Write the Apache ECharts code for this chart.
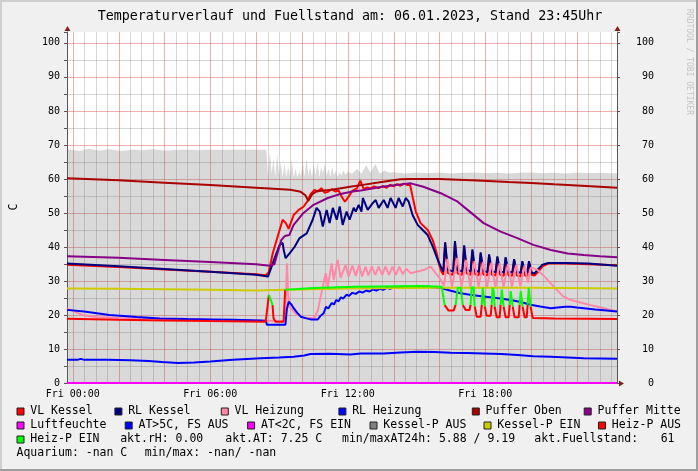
<!DOCTYPE html>
<html><head><meta charset="utf-8">
<script src="https://cdn.jsdelivr.net/npm/echarts@6/dist/echarts.min.js"></script>
<style>html,body{margin:0;padding:0;background:#f0f0f0}#c{width:698px;height:471px}</style>
</head><body><div id="c"></div>
<script>
// ---------------- DATA (hours of Fri 06.01.2023, value) ----------------
const timeTicks = [0, 6, 12, 18];
const tickPrefix = 'Fri ';

const fuellstand = [[-0.25,68.8],[0.3,68.2],[0.7,68.9],[1.2,68.3],[1.6,68.7],[2.1,68.2],[2.6,68.6],[3.0,68.4],[3.5,68.7],[4.0,68.3],[4.5,68.5],[5.0,68.6],[5.5,68.4],[6.0,68.6],[6.5,68.5],[7.0,68.6],[7.5,68.6],[8.0,68.6],[8.45,68.6],[8.52,61],[8.6,68],[8.68,61.5],[8.76,66],[8.84,60.5],[8.92,67.5],[9.0,61],[9.08,65],[9.16,60.5],[9.24,64.5],[9.32,60.5],[9.4,63.5],[9.48,61],[9.56,65.5],[9.64,60.5],[9.72,63],[9.8,60.5],[9.88,62],[9.96,61],[10.04,65],[10.12,60.5],[10.2,66],[10.28,61],[10.36,63.5],[10.44,60.5],[10.52,64.5],[10.6,61],[10.68,65],[10.76,60.5],[10.84,63.5],[10.92,61.5],[11.0,64.5],[11.08,61],[11.16,63],[11.24,60.5],[11.32,63.5],[11.4,61],[11.48,62.5],[11.56,60.5],[11.64,62],[11.72,61],[11.8,62.5],[11.9,61.2],[12.0,62.2],[12.2,61.5],[12.4,63],[12.6,61.5],[12.8,64],[13.0,61.8],[13.2,64.5],[13.4,61.5],[13.6,62.5],[13.8,61.8],[14.0,62],[14.5,61.6],[15.0,61.9],[15.5,61.7],[16.0,61.9],[16.5,61.6],[17.0,61.8],[17.5,61.9],[18.0,61.7],[18.5,61.8],[19.0,61.6],[19.5,61.8],[20.0,61.9],[20.5,61.7],[21.0,61.8],[21.5,61.6],[22.0,61.9],[22.5,61.7],[23.0,61.8],[23.5,61.7],[23.75,61.7]];

const vlKessel = [[-0.25,34.8],[2,34.1],[4,33.4],[6,32.7],[8,32.0],[8.42,31.7],[8.55,32.5],[8.73,38.2],[8.94,43.0],[9.16,48.0],[9.3,47.0],[9.42,45.3],[9.64,49.4],[9.86,50.9],[10.08,51.9],[10.25,53.5],[10.38,55.5],[10.55,56.8],[10.69,56.3],[10.85,57.3],[11.0,55.9],[11.13,56.2],[11.3,57.0],[11.45,56.3],[11.6,56.6],[11.75,54.6],[11.88,53.3],[12.04,54.8],[12.2,56.5],[12.4,57.2],[12.55,59.5],[12.7,57.0],[12.85,57.5],[13.0,57.2],[13.15,57.8],[13.35,57.3],[13.53,57.9],[13.7,57.4],[13.85,58.3],[14.0,57.8],[14.15,58.5],[14.3,58.0],[14.45,58.6],[14.6,58.2],[14.72,58.3],[14.83,54.8],[14.97,50.4],[15.18,47.0],[15.49,45.0],[15.71,42.0],[15.88,38.2],[15.97,35.3],[16.06,33.2],[16.17,31.8],[16.25,41.0],[16.37,32.3],[16.6,31.8],[16.68,41.3],[16.8,32.2],[17.0,31.8],[17.08,40.0],[17.2,32.2],[17.36,31.8],[17.44,38.8],[17.56,32.0],[17.72,31.7],[17.8,38.0],[17.92,31.9],[18.09,31.6],[18.17,37.4],[18.29,31.8],[18.45,31.6],[18.53,36.8],[18.65,31.8],[18.81,31.5],[18.89,36.6],[19.01,31.7],[19.18,31.5],[19.26,36.0],[19.38,31.6],[19.54,31.4],[19.62,35.4],[19.74,31.6],[19.83,31.4],[19.91,35.4],[20.03,31.8],[20.15,31.6],[20.3,32.6],[20.5,34.3],[20.75,35.1],[21.5,35.1],[22.5,34.9],[23.75,34.6]];

const rlKessel = [[-0.25,35.1],[2,34.3],[4,33.5],[6,32.7],[8,31.8],[8.52,31.3],[8.6,31.6],[8.83,37.1],[9.03,40.6],[9.16,41.2],[9.21,39.0],[9.29,36.7],[9.47,38.2],[9.69,40.1],[9.9,42.6],[10.21,44.0],[10.47,48.0],[10.64,51.5],[10.78,50.4],[10.91,46.0],[11.08,50.9],[11.21,47.0],[11.35,51.5],[11.52,48.0],[11.65,51.9],[11.78,46.5],[11.95,50.4],[12.08,48.0],[12.26,51.5],[12.35,50.4],[12.48,52.4],[12.6,50.4],[12.66,54.4],[12.87,50.9],[13.09,52.9],[13.22,53.8],[13.35,51.5],[13.57,53.8],[13.74,51.5],[13.87,54.4],[14.09,51.5],[14.22,54.4],[14.4,51.9],[14.53,54.4],[14.66,53.3],[14.83,49.4],[15.05,46.5],[15.27,45.0],[15.49,43.5],[15.71,40.1],[15.93,36.2],[16.06,34.2],[16.17,32.8],[16.25,41.4],[16.37,33.3],[16.6,32.8],[16.68,41.7],[16.8,33.2],[17.0,32.8],[17.08,40.5],[17.2,33.2],[17.36,32.8],[17.44,39.3],[17.56,33.0],[17.72,32.7],[17.8,38.4],[17.92,32.9],[18.09,32.6],[18.17,37.8],[18.29,32.8],[18.45,32.6],[18.53,37.2],[18.65,32.8],[18.81,32.5],[18.89,37.0],[19.01,32.7],[19.18,32.5],[19.26,36.4],[19.38,32.6],[19.54,32.4],[19.62,35.8],[19.74,32.6],[19.83,32.4],[19.91,35.8],[20.03,32.4],[20.15,32.2],[20.3,33.4],[20.5,34.8],[20.75,35.3],[21.5,35.3],[22.5,35.1],[23.75,34.5]];

const vlHeizung = [[-0.25,21.9],[0.1,21.0],[0.4,20.0],[1.0,19.4],[2.0,19.1],[4.0,18.9],[6.0,18.6],[8.4,18.3],[9.22,18.2],[9.28,20.5],[9.35,35.2],[9.4,26.0],[9.47,22.4],[9.7,20.6],[10.1,19.1],[10.55,19.1],[10.7,21.5],[10.82,25.4],[11.04,32.3],[11.13,28.3],[11.3,35.2],[11.39,30.3],[11.56,36.2],[11.69,30.9],[11.91,34.7],[12.04,31.3],[12.2,34.5],[12.35,31.5],[12.5,34.7],[12.62,31.3],[12.78,34.2],[12.9,31.6],[13.05,34.3],[13.2,31.8],[13.35,34.2],[13.5,31.8],[13.65,34.3],[13.8,31.8],[13.95,34.2],[14.1,31.8],[14.25,34.2],[14.4,32.0],[14.55,33.6],[14.75,32.3],[15.05,32.8],[15.31,33.2],[15.62,34.2],[15.84,32.3],[16.05,30.5],[16.2,28.5],[16.35,36.5],[16.55,28.3],[16.78,36.8],[16.97,28.3],[17.17,36.2],[17.35,28.2],[17.53,35.8],[17.71,28.2],[17.9,35.6],[18.08,28.2],[18.27,35.4],[18.44,28.2],[18.63,35.2],[18.8,28.2],[18.99,35.0],[19.17,28.3],[19.36,34.8],[19.53,28.4],[19.72,34.6],[19.86,29.5],[20.0,34.0],[20.29,33.2],[20.6,31.2],[20.86,29.3],[21.15,27.2],[21.42,25.4],[21.7,24.5],[22.03,23.9],[22.6,22.9],[23.17,22.0],[23.75,21.0]];

const rlHeizung = [[-0.25,21.5],[0.5,21.0],[1.6,20.0],[2.8,19.4],[3.8,19.0],[5,18.8],[6,18.7],[7,18.6],[8.2,18.4],[8.42,18.3],[8.48,17.1],[9.28,17.1],[9.34,21.5],[9.42,23.9],[9.55,23.0],[9.64,22.0],[9.8,20.6],[9.95,19.5],[10.2,19.0],[10.38,18.7],[10.69,18.7],[10.82,19.8],[10.95,20.5],[11.05,22.4],[11.15,21.9],[11.3,23.5],[11.4,23.1],[11.5,24.4],[11.6,24.0],[11.7,25.2],[11.8,24.8],[11.95,26.0],[12.05,25.6],[12.2,26.5],[12.35,26.2],[12.5,26.9],[12.65,26.6],[12.8,27.2],[12.95,26.9],[13.1,27.5],[13.25,27.2],[13.4,27.7],[13.55,27.4],[13.7,28.0],[13.85,27.7],[14.0,28.1],[14.15,27.9],[14.3,28.3],[14.6,28.2],[15.0,28.3],[15.5,28.3],[16.06,27.9],[16.5,27.1],[16.93,26.4],[17.4,25.9],[17.93,25.4],[18.5,25.0],[19.11,24.4],[19.55,23.8],[19.98,23.0],[20.4,22.5],[20.86,22.0],[21.16,22.2],[21.5,22.4],[21.73,22.4],[22.0,22.2],[22.3,22.0],[22.8,21.6],[23.3,21.3],[23.75,21.0]];

const pufferOben = [[-0.25,60.2],[2,59.6],[4,58.9],[6,58.2],[8,57.4],[9.5,56.8],[9.95,56.2],[10.15,55.2],[10.28,53.6],[10.45,55.5],[10.65,56.4],[11.3,56.8],[12.1,57.7],[12.8,58.4],[13.4,59.0],[14.3,59.9],[14.75,60.0],[16,60.0],[17.9,59.5],[19,59.1],[20,58.8],[21,58.4],[22,58.1],[23,57.7],[23.75,57.4]];

const pufferMitte = [[-0.25,37.3],[2,36.8],[4,36.2],[6,35.6],[8,34.9],[8.6,34.5],[8.8,34.9],[8.95,38.5],[9.1,42.0],[9.25,43.2],[9.45,43.5],[9.64,46.5],[10.07,50.0],[10.51,52.4],[11.13,54.4],[11.69,55.6],[12.2,56.3],[12.57,56.6],[13.5,57.7],[14.75,58.7],[15.3,57.7],[16.06,55.8],[16.8,53.3],[17.23,50.9],[17.93,47.0],[18.67,44.5],[19.4,42.6],[20.1,40.6],[20.86,39.1],[21.6,38.1],[22.3,37.6],[23.0,37.3],[23.75,37.0]];

const luftfeuchte = [[-0.25,0],[23.75,0]];

const aussenTemp = [[-0.25,6.8],[0.2,6.8],[0.35,7.1],[0.5,6.8],[1.5,6.8],[2.5,6.7],[3.3,6.5],[3.9,6.2],[4.6,5.9],[5.3,6.0],[6.0,6.3],[7.0,6.8],[8.2,7.3],[9.0,7.5],[9.64,7.7],[10.1,8.1],[10.38,8.5],[11.2,8.6],[12.13,8.4],[12.57,8.7],[13.57,8.7],[14.3,9.0],[15.05,9.2],[15.8,9.1],[16.49,8.9],[17.2,8.8],[17.93,8.7],[18.7,8.5],[19.42,8.2],[20.1,7.9],[20.86,7.7],[21.6,7.5],[22.3,7.3],[23.0,7.2],[23.75,7.1]];

const kesselPumpe = [[-0.25,27.8],[2,27.7],[4,27.6],[6,27.4],[8,27.2],[9.3,27.4],[12,27.8],[16,28.0],[20,28.0],[23.75,27.8]];

// [hour, value, pump on (1) / off (0)]
const heizPumpe = [[-0.25,18.9,0],[2,18.6,0],[4,18.4,0],[6,18.2,0],[8.42,18.0,0],[8.5,18.0,0],[8.56,25.9,1],[8.72,22.9,1],[8.76,19.1,0],[8.85,18.0,0],[9.2,18.0,0],[9.27,27.4,1],[9.64,27.6,1],[10.5,27.9,1],[12.3,28.3,1],[15.2,28.5,1],[16.1,28.3,1],[16.23,22.9,1],[16.4,21.3,0],[16.62,21.3,0],[16.71,23.0,1],[16.8,28.0,1],[16.93,28.0,1],[17.02,22.9,1],[17.15,21.5,0],[17.32,21.5,0],[17.36,23.0,1],[17.41,28.2,1],[17.5,28.0,1],[17.54,22.5,1],[17.63,19.5,0],[17.8,19.5,0],[17.85,23.0,1],[17.89,28.0,1],[17.93,27.5,1],[17.98,22.5,1],[18.06,19.8,0],[18.24,19.8,0],[18.28,23.0,1],[18.32,28.0,1],[18.37,27.0,1],[18.41,22.5,1],[18.5,19.3,0],[18.63,19.3,0],[18.67,23.0,1],[18.72,27.5,1],[18.8,22.5,1],[18.89,19.3,0],[19.02,19.3,0],[19.07,23.0,1],[19.11,27.0,1],[19.2,22.5,1],[19.28,19.3,0],[19.46,19.3,0],[19.5,23.0,1],[19.55,27.0,1],[19.63,22.5,1],[19.72,19.3,0],[19.81,19.3,0],[19.85,23.0,1],[19.9,28.0,1],[19.98,22.5,1],[20.07,19.1,0],[21.0,19.0,0],[22.5,18.9,0],[23.75,18.8,0]];

const readings = {rH:'0.00', AT:'7.25', ATmin:'5.88', ATmax:'9.19', fuell:'61', aq:'-nan', aqMin:'-nan', aqMax:'-nan'};
const titleText = 'Temperaturverlauf und Fuellstand am: 06.01.2023, Stand 23:45Uhr';

// ---------------- RENDER ----------------
const MONO = '"DejaVu Sans Mono", monospace';
const chart = echarts.init(document.getElementById('c'), null, {renderer:'canvas', width:698, height:471});
const GL = 67, GT = 32, GR = 617, GB = 383;
const X_MIN = -0.25, X_MAX = 23.75, Y_MIN = 0, Y_MAX = 103.2;

// grid-line scaffolding: [position, major?, vertical?]; minor first, major last
const gridMinor = [], gridMajor = [];
for (let k = 0; k <= 47; k++) (k % 4 === 0 ? gridMajor : gridMinor).push([k * 0.5, k % 4 === 0 ? 1 : 0, 1]);
for (let k = 1; k <= 20; k++) (k % 2 === 0 ? gridMajor : gridMinor).push([k * 5, k % 2 === 0 ? 1 : 0, 0]);
const gridLines = gridMinor.concat(gridMajor);

function splitRuns(pts, wantOn) {
  const out = [];
  let prev = false;
  for (let i = 0; i < pts.length - 1; i++) {
    const both = pts[i][2] === 1 && pts[i+1][2] === 1;
    const m = both === wantOn;
    if (m) {
      if (!prev) { if (out.length) out.push([pts[i][0], null]); out.push([pts[i][0], pts[i][1]]); }
      out.push([pts[i+1][0], pts[i+1][1]]);
    }
    prev = m;
  }
  return out;
}
function line(name, data, color, width) {
  return {name, type:'line', xAxisIndex:0, yAxisIndex:0, data, symbol:'none', showSymbol:false, animation:false, silent:true,
    connectNulls:false, lineStyle:{color, width: width || 2}, itemStyle:{color}, emphasis:{disabled:true}};
}

const majorC = 'rgba(222,79,79,0.45)', minorC = 'rgba(130,130,130,0.33)';

const graphic = [];
graphic.push({type:'rect', shape:{x:0,y:0,width:698,height:2}, style:{fill:'#cfcfcf'}, z:50});
graphic.push({type:'rect', shape:{x:0,y:0,width:2,height:471}, style:{fill:'#cfcfcf'}, z:50});
graphic.push({type:'rect', shape:{x:696,y:0,width:2,height:471}, style:{fill:'#9e9e9e'}, z:50});
graphic.push({type:'rect', shape:{x:0,y:469,width:698,height:2}, style:{fill:'#9e9e9e'}, z:50});
function txt(x, y, text, size, opts) {
  opts = opts || {};
  return {type:'text', x, y, rotation: opts.rot || 0, z: 60,
    style:{text, x:0, y:0, fill: opts.fill || '#000', font: size + 'px ' + MONO,
      align: opts.align || 'left', textAlign: opts.align || 'left', verticalAlign:'middle', textVerticalAlign:'middle'}};
}
graphic.push(txt(350, 17, titleText, 13.3, {align:'center'}));
graphic.push(txt(689, 62, 'RRDTOOL / TOBI OETIKER', 8, {align:'center', rot:-Math.PI/2, fill:'#c4c4c4'}));
graphic.push(txt(14, 207, 'C', 11.5, {align:'center', rot:Math.PI/2}));
const arrowC = '#801f1f';
graphic.push({type:'polygon', shape:{points:[[GL+0.5,GT-6],[GL-2.5,GT-1],[GL+3.5,GT-1]]}, style:{fill:arrowC}, z:60});
graphic.push({type:'polygon', shape:{points:[[GR+0.5,GT-6],[GR-2.5,GT-1],[GR+3.5,GT-1]]}, style:{fill:arrowC}, z:60});
graphic.push({type:'polygon', shape:{points:[[GR+7,GB+0.5],[GR+2,GB-2.5],[GR+2,GB+3.5]]}, style:{fill:arrowC}, z:60});

const legendRows = [
  {y:411, items:[[16.5,'VL Kessel','#ff0000'],[114.4,'RL Kessel','#000080'],[220.8,'VL Heizung','#ff88a8'],[338.4,'RL Heizung','#0000ff'],[471.8,'Puffer Oben','#aa0000'],[583.7,'Puffer Mitte','#880088']]},
  {y:425, items:[[16.5,'Luftfeuchte','#ff00ff'],[124.7,'AT>5C, FS AUS','#0000ff'],[247.1,'AT<2C, FS EIN','#ff00ff'],[369.5,'Kessel-P AUS','#808080'],[483.5,'Kessel-P EIN','#cccc00'],[598,'Heiz-P AUS','#ff0000']]},
  {y:439, items:[[16.5,'Heiz-P EIN','#00ff00']]}
];
legendRows.forEach(r => r.items.forEach(([x, t, c]) => {
  graphic.push({type:'rect', shape:{x:x+0.5, y:r.y-3, width:7, height:7}, style:{fill:c, stroke:'#222', lineWidth:1}, z:60});
  graphic.push(txt(x+13.8, r.y, t, 11.5));
}));
graphic.push(txt(120.2, 439, 'akt.rH: ' + readings.rH, 11.5));
graphic.push(txt(225.3, 439, 'akt.AT: ' + readings.AT + ' C', 11.5));
graphic.push(txt(342, 439, 'min/maxAT24h: ' + readings.ATmin + ' / ' + readings.ATmax, 11.5));
graphic.push(txt(534.3, 439, 'akt.Fuellstand:', 11.5));
graphic.push(txt(674.5, 439, readings.fuell, 11.5, {align:'right'}));
graphic.push(txt(16.5, 453, 'Aquarium: ' + readings.aq + ' C', 11.5));
graphic.push(txt(144.7, 453, 'min/max: ' + readings.aqMin + '/ ' + readings.aqMax, 11.5));

function fmtX(v) {
  const r = Math.round(v);
  if (Math.abs(v - r) > 1e-6 || timeTicks.indexOf(r) < 0) return '';
  return tickPrefix + String(r).padStart(2, '0') + ':00';
}
function fmtY(v) {
  const r = Math.round(v);
  if (Math.abs(v - r) > 1e-6 || r % 10 !== 0 || r > 100) return '';
  return String(r);
}

const option = {
  backgroundColor: '#f0f0f0',
  animation: false,
  textStyle: {fontFamily: MONO},
  grid: {left: GL, top: GT, right: 698 - GR, bottom: 471 - GB, show: true, backgroundColor: '#ffffff', borderWidth: 0, containLabel: false, outerBoundsMode: 'none'},
  xAxis: {type:'value', min:X_MIN, max:X_MAX, interval:0.25,
    axisLine:{show:true, onZero:false, lineStyle:{color:'#555', width:1}},
    axisTick:{show:false},
    axisLabel:{show:true, margin:6, fontFamily:MONO, fontSize:10, color:'#000', formatter: fmtX, hideOverlap:false},
    splitLine:{show:false}
  },
  yAxis: [
    {type:'value', position:'left', min:Y_MIN, max:Y_MAX, interval:5,
      axisLine:{show:true, onZero:false, lineStyle:{color:'#555', width:1}},
      axisTick:{show:true, length:3, lineStyle:{color:'#555'}},
      axisLabel:{margin:7, fontFamily:MONO, fontSize:10, color:'#000', formatter: fmtY},
      splitLine:{show:false}
    },
    {type:'value', position:'right', min:Y_MIN, max:Y_MAX, interval:10,
      axisLine:{show:true, onZero:false, lineStyle:{color:'#555', width:1}},
      axisTick:{show:true, length:3, lineStyle:{color:'#555'}},
      axisLabel:{margin:37, align:'right', fontFamily:MONO, fontSize:10, color:'#000', formatter: fmtY},
      splitLine:{show:false}
    }
  ],
  graphic: graphic,
  series: [
    {name:'grid', type:'custom', z:1, silent:true, animation:false, clip:false, xAxisIndex:0, yAxisIndex:0,
      data: gridLines,
      renderItem: function (params, api) {
        const pos = api.value(0), major = api.value(1), vert = api.value(2);
        let x1, y1, x2, y2;
        if (vert) {
          const a = api.coord([pos, Y_MIN]), b = api.coord([pos, Y_MAX]);
          x1 = x2 = Math.round(a[0]) + 0.5; y1 = a[1]; y2 = b[1];
        } else {
          const a = api.coord([X_MIN, pos]), b = api.coord([X_MAX, pos]);
          y1 = y2 = Math.round(a[1]) + 0.5; x1 = a[0]; x2 = b[0];
        }
        return {type:'line', shape:{x1, y1, x2, y2}, style:{stroke: major ? majorC : minorC, lineWidth:1, fill:null}};
      }
    },
    {name:'Fuellstand', type:'line', xAxisIndex:0, yAxisIndex:0, data: fuellstand, symbol:'none', showSymbol:false, silent:true, animation:false,
      lineStyle:{width:0, color:'rgba(110,110,110,0)'}, areaStyle:{color:'rgba(110,110,110,0.26)', opacity:1}, emphasis:{disabled:true}},
    line('VL Kessel', vlKessel, '#ff0000'),
    line('RL Kessel', rlKessel, '#000080'),
    line('VL Heizung', vlHeizung, '#ff88a8'),
    line('RL Heizung', rlHeizung, '#0000ff'),
    line('Puffer Oben', pufferOben, '#aa0000'),
    line('Puffer Mitte', pufferMitte, '#880088'),
    line('Luftfeuchte', luftfeuchte, '#ff00ff'),
    line('AT>5C, FS AUS', aussenTemp, '#0000ff'),
    line('Kessel-P EIN', kesselPumpe, '#cccc00'),
    line('Heiz-P AUS', splitRuns(heizPumpe, false), '#ff0000'),
    line('Heiz-P EIN', splitRuns(heizPumpe, true), '#00ff00')
  ]
};
chart.setOption(option);
</script>
</body></html>
